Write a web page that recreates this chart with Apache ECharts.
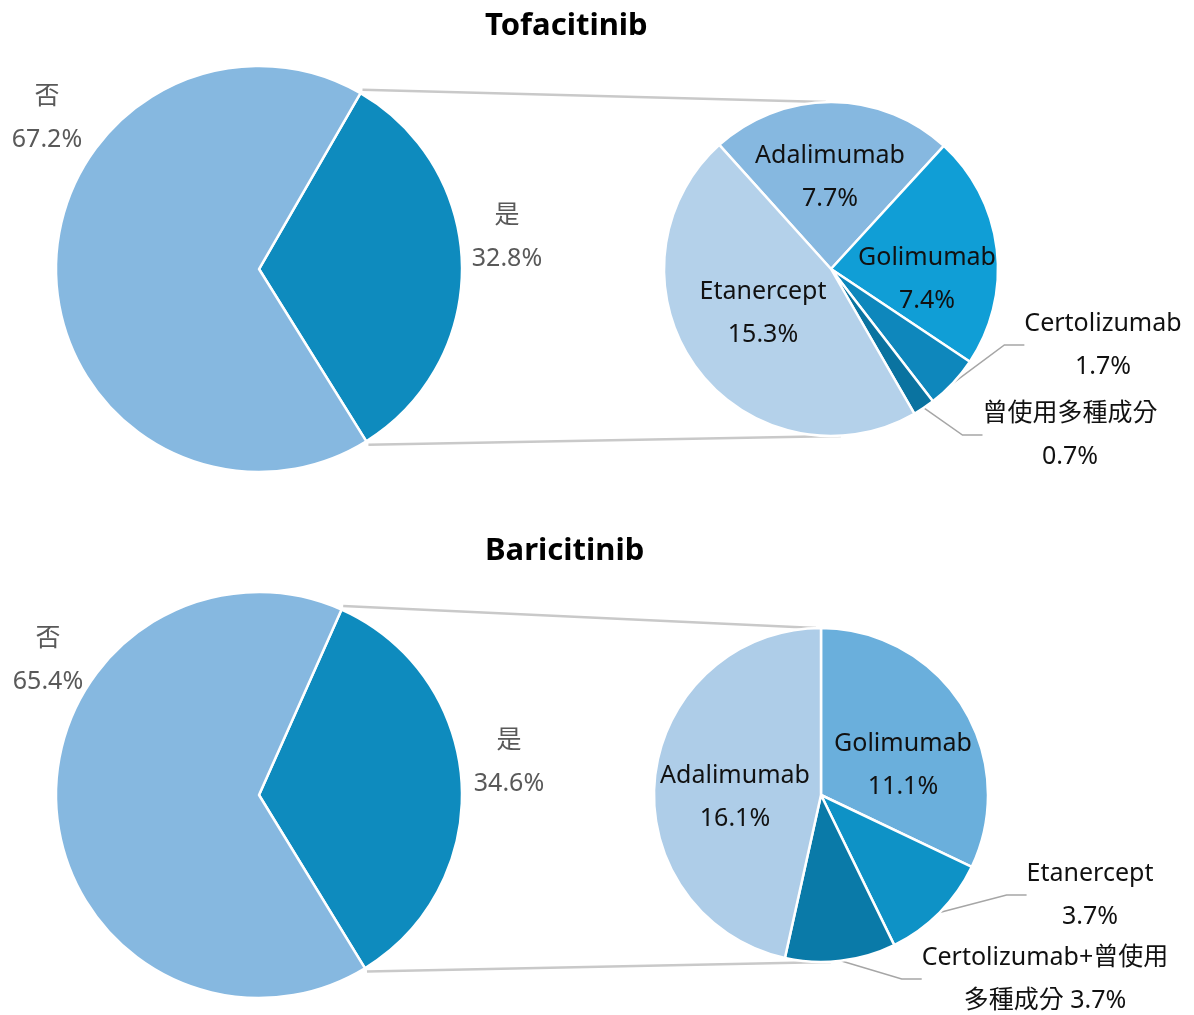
<!DOCTYPE html>
<html>
<head>
<meta charset="utf-8">
<script src="https://cdn.jsdelivr.net/npm/echarts@6/dist/echarts.min.js"></script>
<style>
html,body{margin:0;padding:0;background:#fff;}
#chart{width:1194px;height:1015px;}
</style>
</head>
<body>
<div id="chart"></div>
<script>
// ---- Data ----
const titles = ['Tofacitinib', 'Baricitinib'];

const tofaMainCats = ['是', '否'];
const tofaMainVals = [32.8, 67.2];
const tofaSubCats = ['Adalimumab', 'Golimumab', 'Certolizumab', '曾使用多種成分', 'Etanercept'];
const tofaSubVals = [7.7, 7.4, 1.7, 0.7, 15.3];

const bariMainCats = ['是', '否'];
const bariMainVals = [34.6, 65.4];
const bariSubCats = ['Golimumab', 'Etanercept', 'Certolizumab+曾使用多種成分', 'Adalimumab'];
const bariSubVals = [11.1, 3.7, 3.7, 16.1];

// ---- Styling / layout ----
const FONT = '"Segoe UI","Noto Sans","Noto Sans CJK TC",sans-serif';
const mainColors = ['#0E8BBE', '#86B8E0'];
const tofaSubColors = ['#86B8E0', '#109ED6', '#0E87BC', '#0A73A0', '#B4D1EA'];
const bariSubColors = ['#6AAFDC', '#0E92C6', '#0A7AA8', '#AECDE8'];

const geo = [
  {c: [259, 269], r: 203, start: 60},   // tofa main
  {c: [831, 269], r: 167, start: 132},  // tofa sub
  {c: [259, 795], r: 203, start: 66},   // bari main
  {c: [821, 795], r: 167, start: 90}    // bari sub
];
// label anchor points (centre of text block)
const labelPos = [
  [[507, 237], [47, 118]],
  [[830, 177], [927, 279], [1103, 345], [1070, 435], [763, 313]],
  [[509, 762], [48, 660]],
  [[903, 765], [1090, 895], [1045, 979], [735, 797]]
];
const outsideIdx = [[], [2, 3], [], [1, 2]];
const displayNames = {'Certolizumab+曾使用多種成分': 'Certolizumab+曾使用\n多種成分'};

function pieSeries(si, cats, vals, colors, isMain) {
  const g = geo[si];
  return {
    type: 'pie',
    center: g.c,
    radius: [0, g.r],
    startAngle: g.start,
    clockwise: true,
    animation: false,
    avoidLabelOverlap: false,
    itemStyle: {borderColor: '#fff', borderWidth: 2.5},
    emphasis: {disabled: true},
    label: {
      show: true,
      position: isMain ? 'outside' : 'inside',
      fontFamily: FONT,
      fontSize: 25,
      lineHeight: 43,
      color: isMain ? '#595959' : '#111',
      align: 'center',
      formatter: function (p) {
        const dn = displayNames[p.name];
        if (dn) return dn + ' ' + p.value.toFixed(1) + '%';
        return p.name + '\n' + p.value.toFixed(1) + '%';
      }
    },
    labelLine: {show: false},
    labelLayout: function (p) {
      const pos = labelPos[si][p.dataIndex];
      return {x: pos[0], y: pos[1], align: 'center', verticalAlign: 'middle'};
    },
    data: cats.map(function (n, i) {
      const d = {name: n, value: vals[i], itemStyle: {color: colors[i]}};
      if (outsideIdx[si].indexOf(i) >= 0) {
        d.label = {position: 'outside'};
        d.labelLine = {show: true, length: 20, length2: 20, lineStyle: {color: '#A6A6A6', width: 1.5}};
      }
      return d;
    })
  };
}

// connector lines derived from the main-pie split angles and the sub-pie geometry
function connectors(mainIdx, subIdx, yesPct) {
  const m = geo[mainIdx], s = geo[subIdx];
  const a1 = m.start * Math.PI / 180;
  const a2 = (m.start - yesPct * 3.6) * Math.PI / 180;
  const rr = m.r + 4;
  const p1 = [m.c[0] + rr * Math.cos(a1), m.c[1] - rr * Math.sin(a1)];
  const p2 = [m.c[0] + rr * Math.cos(a2), m.c[1] - rr * Math.sin(a2)];
  const style = {stroke: '#C9C9C9', lineWidth: 2.5};
  return [
    {type: 'line', z: -1, shape: {x1: p1[0], y1: p1[1], x2: s.c[0] - 5, y2: s.c[1] - s.r}, style: style},
    {type: 'line', z: -1, shape: {x1: p2[0], y1: p2[1], x2: s.c[0] + 10, y2: s.c[1] + s.r}, style: style}
  ];
}

const chart = echarts.init(document.getElementById('chart'), null, {renderer: 'canvas'});
chart.setOption({
  backgroundColor: '#fff',
  animation: false,
  title: [
    {text: titles[0], left: 480, top: 6, textStyle: {fontFamily: FONT, fontSize: 31, fontWeight: 'bold', color: '#000'}},
    {text: titles[1], left: 480, top: 531, textStyle: {fontFamily: FONT, fontSize: 31, fontWeight: 'bold', color: '#000'}}
  ],
  graphic: connectors(0, 1, tofaMainVals[0]).concat(connectors(2, 3, bariMainVals[0])),
  series: [
    pieSeries(0, tofaMainCats, tofaMainVals, mainColors, true),
    pieSeries(1, tofaSubCats, tofaSubVals, tofaSubColors, false),
    pieSeries(2, bariMainCats, bariMainVals, mainColors, true),
    pieSeries(3, bariSubCats, bariSubVals, bariSubColors, false)
  ]
});
</script>
</body>
</html>
